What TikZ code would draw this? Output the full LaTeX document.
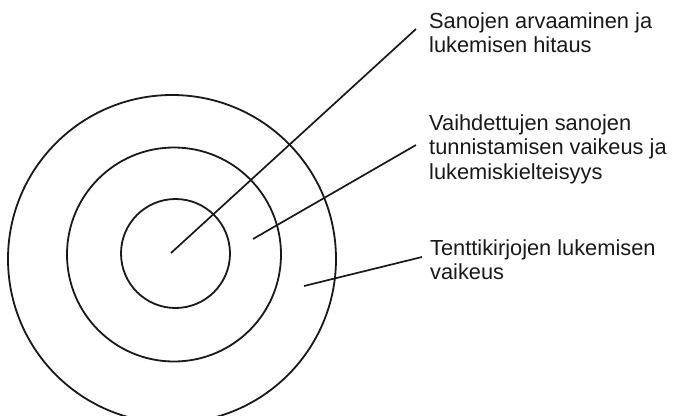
\documentclass[tikz,border=0pt]{standalone}
\usepackage{fontspec}
\setmainfont{Liberation Sans}
\begin{document}
\begin{tikzpicture}[x=1pt,y=-1pt,
  ring/.style={draw=black!90, line width=1.8pt},
  leader/.style={draw=black!90, line width=1.7pt},
  lbl/.style={anchor=base west, inner sep=0pt, align=left, font=\fontsize{21.8pt}{24.5pt}\selectfont, text=black!90}]
\useasboundingbox (0,0) rectangle (680,415);
\draw[ring] (172,259) circle[radius=164];
\draw[ring] (174,254.5) circle[radius=107];
\draw[ring] (175.5,253.5) circle[radius=54.5];
\coordinate (a1) at (171,253);
\coordinate (b1) at (416,29);
\coordinate (a2) at (253,239);
\coordinate (b2) at (416,145);
\coordinate (a3) at (304,286);
\coordinate (b3) at (422,257);
\draw[leader] (a1) -- (b1);
\draw[leader] (a2) -- (b2);
\draw[leader] (a3) -- (b3);
\node[lbl] (t1) at (429,52.5) {Sanojen arvaaminen ja\\lukemisen hitaus};
\node[lbl] (t2) at (429,179) {Vaihdettujen sanojen\\tunnistamisen vaikeus ja\\lukemiskielteisyys};
\node[lbl] (t3) at (430,279.5) {Tenttikirjojen lukemisen\\vaikeus};
\end{tikzpicture}
\end{document}
